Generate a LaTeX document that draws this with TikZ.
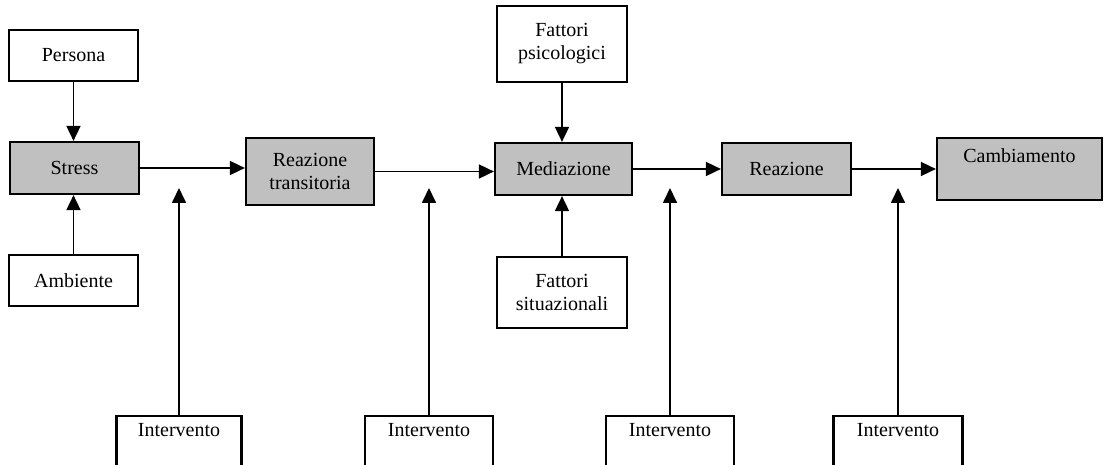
\documentclass[tikz,border=0pt]{standalone}
\usepackage{fontspec}
\setmainfont{Liberation Serif}
\usetikzlibrary{arrows.meta}
\definecolor{boxgray}{HTML}{C0C0C0}
\begin{document}
\begin{tikzpicture}[x=1pt,y=-1pt,
  every node/.style={font=\fontsize{20}{23}\selectfont, align=center, inner sep=0pt},
  plainbox/.style={draw=black, line width=2.2pt, fill=white, rectangle},
  graybox/.style={draw=black, line width=2.2pt, fill=boxgray, rectangle},
  link/.style={line width=1.7pt, -{Triangle[length=15pt,width=14pt]}}]
\useasboundingbox (0,0) rectangle (1104,465);
\clip (0,0) rectangle (1104,465);

% input factors on the left
\node[plainbox, minimum width=129pt, minimum height=51pt] (persona) at (73.5,55.5) {Persona};
\node[graybox, minimum width=129pt, minimum height=52pt] (stress) at (74.5,168) {Stress};
\node[plainbox, minimum width=129pt, minimum height=51pt] (ambiente) at (73.5,280.5) {Ambiente};

% main chain
\node[graybox, minimum width=128pt, minimum height=67pt] (rt) at (310,171.5) {Reazione\\transitoria};
\node[graybox, minimum width=137pt, minimum height=52pt] (med) at (563.5,169) {Mediazione};
\node[plainbox, minimum width=130pt, minimum height=76pt] (psico) at (562,44) {Fattori\\psicologici};
\node[plainbox, minimum width=130pt, minimum height=71pt] (situ) at (562,292.5) {Fattori\\situazionali};
\node[graybox, minimum width=129pt, minimum height=52pt] (reaz) at (786.5,169) {Reazione};
\node[graybox, minimum width=165pt, minimum height=62pt] (camb) at (1019.5,169) {};
\node[anchor=north] (cambtext) at ([yshift=-12pt]camb.north) {Cambiamento};

% intervention boxes along the bottom
\node[plainbox, anchor=north, minimum width=125pt, minimum height=80pt, text depth=52pt] (i1) at (179,415) {Intervento};
\node[plainbox, anchor=north, minimum width=128pt, minimum height=80pt, text depth=52pt] (i2) at (429,415) {Intervento};
\node[plainbox, anchor=north, minimum width=128pt, minimum height=80pt, text depth=52pt] (i3) at (670,415) {Intervento};
\node[plainbox, anchor=north, minimum width=129pt, minimum height=80pt, text depth=52pt] (i4) at (898,415) {Intervento};

% free ends of the intervention arrows
\coordinate (t1) at (179,188);
\coordinate (t2) at (429,188);
\coordinate (t3) at (670,188);
\coordinate (t4) at (898,188);

% connectors
\draw[link] (persona.south) -- (persona.south |- stress.north);
\draw[link] (ambiente.north) -- (ambiente.north |- stress.south);
\draw[link] (stress.east) -- (stress.east -| rt.west);
\draw[link] (rt.east) -- (rt.east -| med.west);
\draw[link] (psico.south) -- (psico.south |- med.north);
\draw[link] (situ.north) -- (situ.north |- med.south);
\draw[link] (med.east) -- (med.east -| reaz.west);
\draw[link] (reaz.east) -- (reaz.east -| camb.west);

\draw[link] (i1.north) -- (t1);
\draw[link] (i2.north) -- (t2);
\draw[link] (i3.north) -- (t3);
\draw[link] (i4.north) -- (t4);
\end{tikzpicture}
\end{document}
